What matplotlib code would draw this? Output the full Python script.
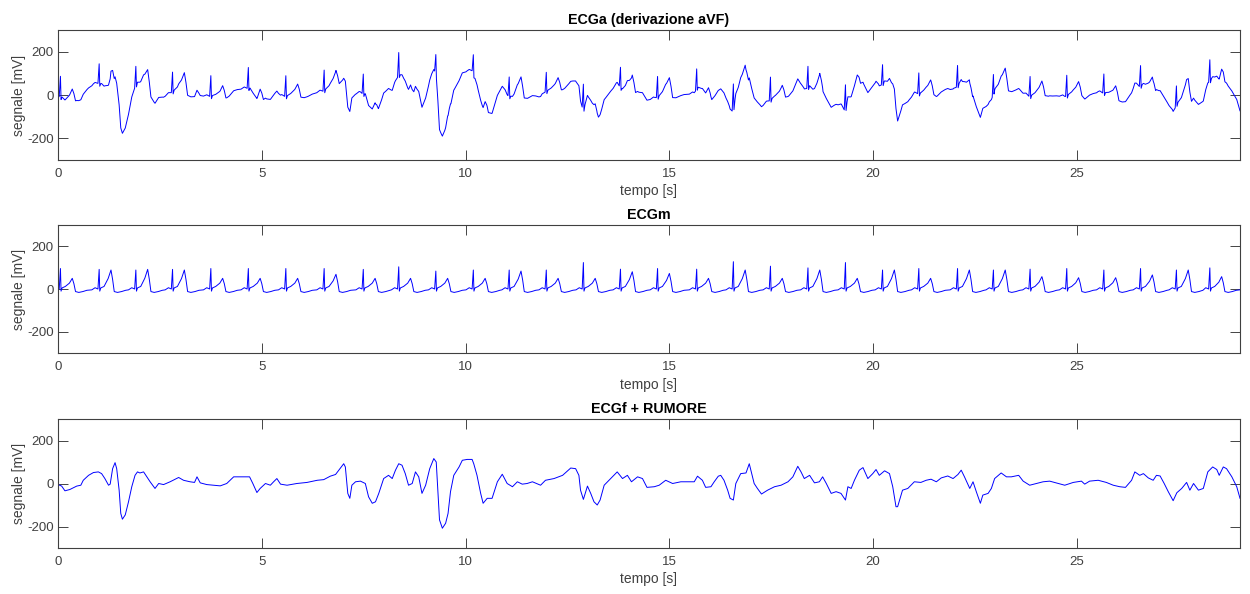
import numpy as np
import matplotlib
matplotlib.use("Agg")
import matplotlib.pyplot as plt

plt.rcParams['font.family'] = ['Liberation Sans', 'DejaVu Sans']
plt.rcParams['axes.unicode_minus'] = False

# ---------------- data ----------------
# ECGf + RUMORE: traced (time [s], value [mV]) vertices
ecgf_t = [0.00, 0.09, 0.17, 0.29, 0.46, 0.56, 0.62, 0.75, 0.87, 0.99, 1.07, 1.15, 1.24, 1.28, 1.34, 1.40,
          1.44, 1.50, 1.54, 1.58, 1.65, 1.73, 1.81, 1.89, 1.95, 2.01, 2.10, 2.18, 2.26, 2.38, 2.47, 2.59,
          2.75, 2.96, 3.08, 3.24, 3.35, 3.41, 3.49, 3.65, 3.82, 3.98, 4.14, 4.31, 4.47, 4.70, 4.78, 4.88,
          4.96, 5.09, 5.21, 5.29, 5.37, 5.46, 5.62, 5.86, 6.11, 6.36, 6.52, 6.68, 6.81, 6.89, 7.01, 7.05,
          7.11, 7.16, 7.21, 7.30, 7.42, 7.54, 7.62, 7.71, 7.79, 7.87, 7.99, 8.11, 8.20, 8.28, 8.36, 8.44,
          8.52, 8.60, 8.69, 8.77, 8.85, 8.93, 9.02, 9.12, 9.22, 9.28, 9.32, 9.36, 9.43, 9.51, 9.57, 9.63,
          9.71, 9.84, 9.92, 10.04, 10.16, 10.20, 10.28, 10.37, 10.43, 10.53, 10.65, 10.78, 10.90, 11.02,
          11.15, 11.27, 11.39, 11.51, 11.64, 11.84, 11.96, 12.17, 12.38, 12.58, 12.70, 12.78, 12.82, 12.89,
          12.99, 13.07, 13.15, 13.23, 13.30, 13.40, 13.56, 13.72, 13.85, 13.97, 14.07, 14.22, 14.34, 14.45,
          14.63, 14.75, 14.91, 15.08, 15.28, 15.49, 15.61, 15.69, 15.81, 15.89, 16.02, 16.10, 16.20, 16.26,
          16.34, 16.43, 16.49, 16.57, 16.63, 16.75, 16.88, 16.96, 17.02, 17.08, 17.16, 17.26, 17.41, 17.58,
          17.74, 17.91, 18.03, 18.15, 18.23, 18.31, 18.44, 18.56, 18.68, 18.76, 18.85, 18.97, 19.09, 19.21,
          19.32, 19.38, 19.46, 19.54, 19.66, 19.75, 19.87, 19.99, 20.07, 20.15, 20.28, 20.40, 20.48, 20.56,
          20.60, 20.72, 20.85, 21.01, 21.17, 21.30, 21.42, 21.55, 21.67, 21.83, 21.96, 22.08, 22.16, 22.24,
          22.37, 22.45, 22.53, 22.63, 22.69, 22.82, 22.90, 22.98, 23.14, 23.27, 23.39, 23.57, 23.68, 23.84,
          24.00, 24.17, 24.33, 24.54, 24.70, 24.91, 25.11, 25.19, 25.31, 25.52, 25.72, 25.89, 26.05, 26.19,
          26.34, 26.42, 26.54, 26.63, 26.75, 26.87, 26.95, 27.04, 27.14, 27.24, 27.36, 27.45, 27.57, 27.69,
          27.77, 27.86, 27.98, 28.10, 28.21, 28.33, 28.43, 28.49, 28.59, 28.67, 28.80, 28.92, 29.00]
ecgf_v = [-5, -12, -34, -28, -12, -8, 15, 38, 51, 54, 46, 23, -8, -3, 69, 97,
          69, -31, -139, -166, -146, -85, -15, 38, 54, 49, 54, 31, 8, -23, 0, -5,
          8, 28, 15, 8, 5, 31, 3, -5, -8, -11, 0, 31, 31, 31, 0, -42,
          -23, 0, -8, 8, 23, -3, -8, 0, 5, 15, 18, 34, 42, 62, 92, 77,
          -46, -69, -8, 8, 11, 0, -62, -92, -85, -46, 23, 38, 23, 62, 92, 85,
          46, -8, 0, 54, 31, -46, -8, 69, 116, 100, -31, -169, -208, -185, -139, -38,
          38, 77, 108, 112, 112, 92, 38, -46, -92, -69, -69, 8, 43, 0,
          -15, 8, -3, 0, 8, -8, 15, 23, 38, 72, 69, 38, -31, -74,
          -12, -46, -85, -100, -77, -8, 23, 54, 23, 38, 8, 31, 23, -18,
          -15, -8, 15, 0, 8, 8, 8, 34, 15, -18, -15, 8, 34, 38,
          15, -31, -69, -77, 0, 46, 49, 92, 46, 0, -23, -49, -31, -15,
          -8, 8, 31, 80, 54, 23, 38, 3, 8, 31, 0, -46, -38, -46,
          -77, -15, -23, 15, 62, 74, 23, 46, 65, 38, 59, 46, -15, -108,
          -108, -31, -23, 8, 5, 15, 20, 8, 26, 35, 23, 42, 62, 31,
          -23, 8, -38, -92, -54, -46, -23, 23, 49, 31, 31, 38, 11, -8,
          0, 8, 11, 0, -8, 5, 11, -3, 11, 15, 5, -8, -15, -18,
          15, 54, 38, 46, 26, 15, 38, 35, 0, -38, -80, -43, -23, 5,
          -31, 0, -31, -23, 54, 77, 65, 38, 77, 69, 31, -15, -69]

# ECGm: R-peak times [s], R amplitudes and T-wave amplitudes [mV]
beat_times = [0.06, 1.01, 1.91, 2.81, 3.75, 4.67, 5.59, 6.53, 7.49, 8.36, 9.27, 10.19, 11.07, 11.98,
              12.89, 13.80, 14.71, 15.67, 16.57, 17.48, 18.40, 19.32, 20.23, 21.12, 22.07, 22.95,
              23.85, 24.75, 25.66, 26.56, 27.44, 28.26]
r_amp = [96, 92, 89, 92, 96, 96, 96, 96, 92, 104, 84, 89, 89, 89, 124, 93,
         96, 93, 128, 107, 99, 124, 89, 96, 96, 89, 93, 96, 89, 96, 89, 99]
t_amp = [50, 89, 92, 89, 50, 50, 50, 69, 50, 50, 50, 50, 84, 50, 50, 81,
         73, 50, 89, 50, 89, 50, 89, 50, 89, 89, 58, 53, 53, 66, 89, 58]
# beat shape read from one cycle: offsets from R [s]
beat_off = [-0.18, -0.10, -0.03, 0.0, 0.015, 0.04, 0.12, 0.22, 0.29, 0.33, 0.37, 0.45, 0.55, 0.65]

xticks = [0, 5, 10, 15, 20, 25]
yticks = [-200, 0, 200]
titles = ["ECGa (derivazione aVF)", "ECGm", "ECGf + RUMORE"]

# ---------------- build series ----------------
tm = [0.0]
vm = [-5.0]
for tb, ra, ta in zip(beat_times, r_amp, t_amp):
    vals = [-4, 6, 0, ra, -10, 5, 12, 0.55 * ta, ta, 0.5 * ta, -12, -16, -12, -6]
    for o, v in zip(beat_off, vals):
        if tb + o > tm[-1]:
            tm.append(tb + o)
            vm.append(v)
tm.append(29.0)
vm.append(-4)
tm = np.array(tm)
vm = np.array(vm)
tf = np.array(ecgf_t)
vf = np.array(ecgf_v, dtype=float)
ta_ = np.union1d(tm, tf)
va = np.interp(ta_, tm, vm) + np.interp(ta_, tf, vf)

series = [(ta_, va), (tm, vm), (tf, vf)]

# ---------------- figure ----------------
W, H = 1250, 594
fig = plt.figure(figsize=(W / 100, H / 100), dpi=100)
fig.patch.set_facecolor('white')
boxes = [(30, 160), (225, 353), (419, 548)]
axcol = '#262626'
for (top, bot), (x, y), title in zip(boxes, series, titles):
    ax = fig.add_axes([58 / W, 1 - bot / H, (1240 - 58) / W, (bot - top) / H])
    ax.plot(x, y, color='#0000ff', lw=0.7)
    ax.set_xlim(0, 29)
    ax.set_ylim(-300, 300)
    ax.set_xticks(xticks)
    ax.set_yticks(yticks)
    ax.tick_params(direction='in', length=7, width=0.6, colors=axcol, labelsize=9.5,
                   top=True, right=True)
    ax.tick_params(axis='x', pad=6)
    ax.tick_params(axis='y', pad=3)
    for lab in ax.get_xticklabels() + ax.get_yticklabels():
        lab.set_color('#404040')
    for s in ax.spines.values():
        s.set_color('#404040')
        s.set_linewidth(0.8)
    ax.set_xlabel("tempo [s]", fontsize=10, color='#404040', labelpad=3)
    ax.set_ylabel("segnale [mV]", fontsize=10, color='#404040', labelpad=1)
    ax.set_title(title, fontsize=10.3, fontweight='bold', color='black', pad=4)

fig.savefig("out.png", dpi=100, facecolor='white')
